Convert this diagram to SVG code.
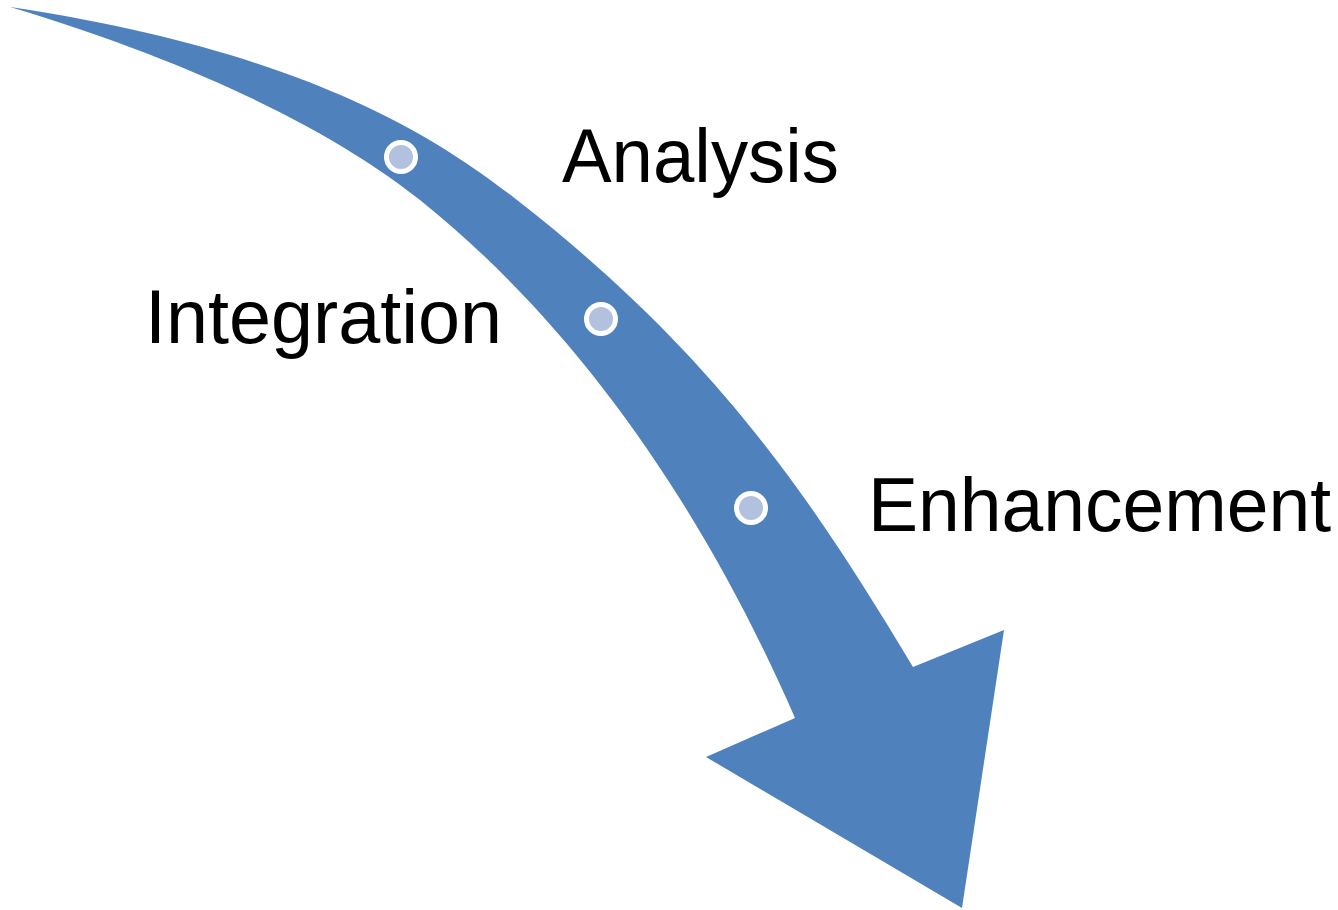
<svg xmlns="http://www.w3.org/2000/svg" width="1338" height="910" viewBox="0 0 1338 910">
<style>
.lbl{font-family:"Liberation Sans",Arial,sans-serif;font-size:76px;fill:#000}
.dot{fill:#b2c1dd;stroke:#fff;stroke-width:5}
</style>
<rect width="1338" height="910" fill="#fff"/>
<g id="connectors">
<path id="arrow" fill="#4f81bd" d="M10,7 C306.7,51.4 438.1,138.5 517,200 C714.3,353.8 810.2,495.6 913,667 L1004,630 L962,908 L706,757 L795,718 C703.2,507.1 576.2,325 420,200 C349.7,143.75 220.8,70.1 10,7 Z"/>
</g>
<g id="node-analysis">
<circle class="dot" cx="401" cy="157" r="14.5"/>
<text class="lbl" x="562" y="182" textLength="277" lengthAdjust="spacingAndGlyphs">Analysis</text>
</g>
<g id="node-integration">
<circle class="dot" cx="601" cy="319" r="14.5"/>
<text class="lbl" x="145" y="343" textLength="357" lengthAdjust="spacingAndGlyphs">Integration</text>
</g>
<g id="node-enhancement">
<circle class="dot" cx="751" cy="508" r="14.5"/>
<text class="lbl" x="868" y="531" textLength="463" lengthAdjust="spacingAndGlyphs">Enhancement</text>
</g>
</svg>
